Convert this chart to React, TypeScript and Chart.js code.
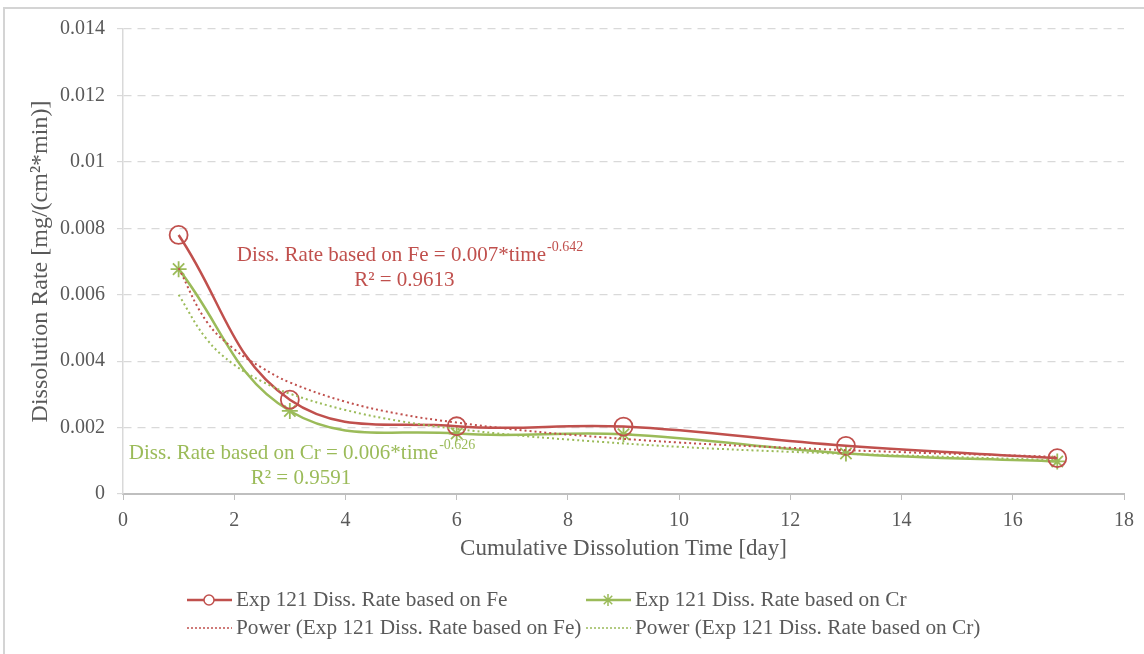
import React, { useEffect, useRef } from "react";
import { Chart, registerables } from "chart.js";

Chart.register(...registerables);

// ---- data ----
const days = [1, 3, 6, 9, 13, 16.8];
const feRate = [0.0078, 0.00284, 0.00204, 0.00203, 0.00145, 0.00108];
const crRate = [0.00677, 0.0025, 0.00182, 0.0018, 0.00122, 0.00098];

// trend lines (power fits)
const trendDays = [1, 1.5, 2, 2.5, 3, 4, 5, 6, 7, 8, 10, 12, 14, 16.8];
const feTrend = [0.0068, 0.0052, 0.00436, 0.0038, 0.00336, 0.00278, 0.0024, 0.00215, 0.00195, 0.00179, 0.00155, 0.00139, 0.00126, 0.00112];
const crTrend = [0.006, 0.00467, 0.00389, 0.00339, 0.00302, 0.00253, 0.00219, 0.00196, 0.00178, 0.00164, 0.00142, 0.00127, 0.00116, 0.00102];

const yTickValues = [0, 0.002, 0.004, 0.006, 0.008, 0.01, 0.012, 0.014];
const yTickLabels = ["0", "0.002", "0.004", "0.006", "0.008", "0.01", "0.012", "0.014"];
const xTickLabels = ["0", "2", "4", "6", "8", "10", "12", "14", "16", "18"];

const seriesLabels = [
  "Exp 121 Diss. Rate based on Fe",
  "Exp 121 Diss. Rate based on Cr",
  "Power (Exp 121 Diss. Rate based on Fe)",
  "Power (Exp 121 Diss. Rate based on Cr)",
];

const feEquation = { main: "Diss. Rate based on Fe = 0.007*time", sup: "-0.642", r2: "R\u00B2 = 0.9613" };
const crEquation = { main: "Diss. Rate based on Cr = 0.006*time", sup: "-0.626", r2: "R\u00B2 = 0.9591" };

const FONT = "'Liberation Serif', 'Times New Roman', serif";
const TEXT = "#595959";
const RED = "#C0504D";
const GREEN = "#9BBB59";
const GRID = "#d9d9d9";

function toPoints(xs: number[], ys: number[]) {
  return xs.map((x, i) => ({ x, y: ys[i] }));
}

export default function App() {
  const ref = useRef<HTMLCanvasElement>(null);

  useEffect(() => {
    document.body.style.margin = "0";
    const canvas = ref.current!;

    const drawEq = (ctx: CanvasRenderingContext2D, cx: number, cy: number, main: string, sup: string, color: string) => {
      ctx.font = `21px ${FONT}`;
      const w1 = ctx.measureText(main).width;
      ctx.font = `14px ${FONT}`;
      const w2 = sup ? ctx.measureText(sup).width + 1 : 0;
      const start = cx - (w1 + w2) / 2;
      ctx.fillStyle = color;
      ctx.textAlign = "left";
      ctx.textBaseline = "middle";
      ctx.font = `21px ${FONT}`;
      ctx.fillText(main, start, cy);
      if (sup) {
        ctx.font = `14px ${FONT}`;
        ctx.fillText(sup, start + w1 + 1, cy - 8);
      }
    };

    const drawStar = (ctx: CanvasRenderingContext2D, x: number, y: number, r: number) => {
      ctx.beginPath();
      for (let k = 0; k < 4; k++) {
        const a = (k * Math.PI) / 4;
        ctx.moveTo(x - r * Math.cos(a), y - r * Math.sin(a));
        ctx.lineTo(x + r * Math.cos(a), y + r * Math.sin(a));
      }
      ctx.stroke();
    };

    const overlay = {
      id: "overlay",
      beforeDraw(chart: any) {
        const ctx = chart.ctx as CanvasRenderingContext2D;
        ctx.save();
        ctx.strokeStyle = "#d4d4d4";
        ctx.lineWidth = 2;
        ctx.beginPath();
        ctx.moveTo(4, 654);
        ctx.lineTo(4, 8);
        ctx.lineTo(1144, 8);
        ctx.stroke();
        ctx.restore();
      },
      afterDraw(chart: any) {
        const ctx = chart.ctx as CanvasRenderingContext2D;
        const xs = chart.scales.x;
        const ys = chart.scales.y;
        ctx.save();
        // trend-line equations
        drawEq(ctx, xs.getPixelForValue(5.16), ys.getPixelForValue(0.00718), feEquation.main, feEquation.sup, RED);
        drawEq(ctx, xs.getPixelForValue(5.06), ys.getPixelForValue(0.00643), feEquation.r2, "", RED);
        drawEq(ctx, xs.getPixelForValue(3.22), ys.getPixelForValue(0.00123), crEquation.main, crEquation.sup, GREEN);
        drawEq(ctx, xs.getPixelForValue(3.2), ys.getPixelForValue(0.00048), crEquation.r2, "", GREEN);

        // legend
        const cols = [187, 586];
        const rows = [600, 628];
        const items = [
          { col: 0, row: 0, color: RED, dash: [] as number[], marker: "circle" },
          { col: 1, row: 0, color: GREEN, dash: [] as number[], marker: "star" },
          { col: 0, row: 1, color: RED, dash: [2, 2], marker: "" },
          { col: 1, row: 1, color: GREEN, dash: [2, 2], marker: "" },
        ];
        items.forEach((it, i) => {
          const x0 = cols[it.col];
          const y = rows[it.row];
          ctx.strokeStyle = it.color;
          ctx.lineWidth = it.dash.length ? 1.5 : 2.5;
          ctx.setLineDash(it.dash);
          ctx.beginPath();
          ctx.moveTo(x0, y);
          ctx.lineTo(x0 + 45, y);
          ctx.stroke();
          ctx.setLineDash([]);
          if (it.marker === "circle") {
            ctx.lineWidth = 1.5;
            ctx.fillStyle = "#ffffff";
            ctx.beginPath();
            ctx.arc(x0 + 22, y, 5, 0, Math.PI * 2);
            ctx.fill();
            ctx.stroke();
          } else if (it.marker === "star") {
            ctx.lineWidth = 1.5;
            drawStar(ctx, x0 + 22, y, 6);
          }
          ctx.fillStyle = TEXT;
          ctx.font = `21.3px ${FONT}`;
          ctx.textAlign = "left";
          ctx.textBaseline = "middle";
          ctx.fillText(seriesLabels[i], x0 + 49, y);
        });
        ctx.restore();
      },
    };

    const chart = new Chart(canvas, {
      type: "line",
      data: {
        datasets: [
          {
            label: seriesLabels[0],
            data: toPoints(days, feRate),
            borderColor: RED,
            backgroundColor: "rgba(0,0,0,0)",
            borderWidth: 2.5,
            tension: 0.4,
            pointStyle: "circle",
            pointRadius: 9,
            pointBorderWidth: 1.8,
            pointBorderColor: RED,
            pointBackgroundColor: "rgba(0,0,0,0)",
            order: 2,
          },
          {
            label: seriesLabels[1],
            data: toPoints(days, crRate),
            borderColor: GREEN,
            backgroundColor: "rgba(0,0,0,0)",
            borderWidth: 2.5,
            tension: 0.4,
            pointStyle: "star",
            pointRadius: 8,
            pointBorderWidth: 1.8,
            pointBorderColor: GREEN,
            pointBackgroundColor: GREEN,
            order: 3,
          },
          {
            label: seriesLabels[2],
            data: toPoints(trendDays, feTrend),
            borderColor: RED,
            borderWidth: 2,
            borderDash: [2, 3],
            tension: 0.4,
            pointRadius: 0,
            order: 1,
          },
          {
            label: seriesLabels[3],
            data: toPoints(trendDays, crTrend),
            borderColor: GREEN,
            borderWidth: 2,
            borderDash: [2, 3],
            tension: 0.4,
            pointRadius: 0,
            order: 1,
          },
        ],
      },
      options: {
        animation: false,
        responsive: true,
        maintainAspectRatio: false,
        layout: { padding: { left: 0, right: 20, top: 29, bottom: 90 } },
        plugins: {
          legend: { display: false },
          tooltip: { enabled: false },
        },
        scales: {
          x: {
            type: "linear",
            min: 0,
            max: 18,
            afterFit: (s: any) => {
              s.height = 70;
            },
            afterBuildTicks: (s: any) => {
              s.ticks = xTickLabels.map((l) => ({ value: Number(l) }));
            },
            ticks: {
              color: TEXT,
              font: { family: FONT, size: 20 },
              padding: 9,
              maxRotation: 0,
              callback: (_v: any, i: number) => xTickLabels[i],
            },
            grid: {
              drawOnChartArea: false,
              drawTicks: true,
              tickLength: 6,
              tickColor: "#bfbfbf",
              tickWidth: 1,
            },
            border: { display: true, color: "#bfbfbf", width: 2 },
            title: {
              display: true,
              text: "Cumulative Dissolution Time [day]",
              color: TEXT,
              font: { family: FONT, size: 23 },
              padding: { top: 0, bottom: 1 },
            },
          },
          y: {
            type: "linear",
            min: 0,
            max: 0.014,
            afterFit: (s: any) => {
              s.width = 123;
            },
            afterBuildTicks: (s: any) => {
              s.ticks = yTickValues.map((v) => ({ value: v }));
            },
            ticks: {
              color: TEXT,
              font: { family: FONT, size: 20 },
              padding: 12,
              callback: (_v: any, i: number) => yTickLabels[i],
            },
            grid: {
              color: (c: any) => (c.index === 0 ? "rgba(0,0,0,0)" : GRID),
              lineWidth: 1.2,
              drawTicks: true,
              tickLength: 6,
              tickColor: GRID,
              tickBorderDash: [],
            } as any,
            border: { display: true, color: GRID, width: 1.5, dash: [8, 6] } as any,
            title: {
              display: true,
              text: "Dissolution Rate [mg/(cm\u00B2*min)]",
              color: TEXT,
              font: { family: FONT, size: 24 },
              padding: { top: 26, bottom: 0 },
            },
          },
        },
      },
      plugins: [overlay],
    });

    return () => chart.destroy();
  }, []);

  return (
    <div style={{ width: 1144, height: 654, position: "relative" }}>
      <canvas ref={ref} />
    </div>
  );
}
